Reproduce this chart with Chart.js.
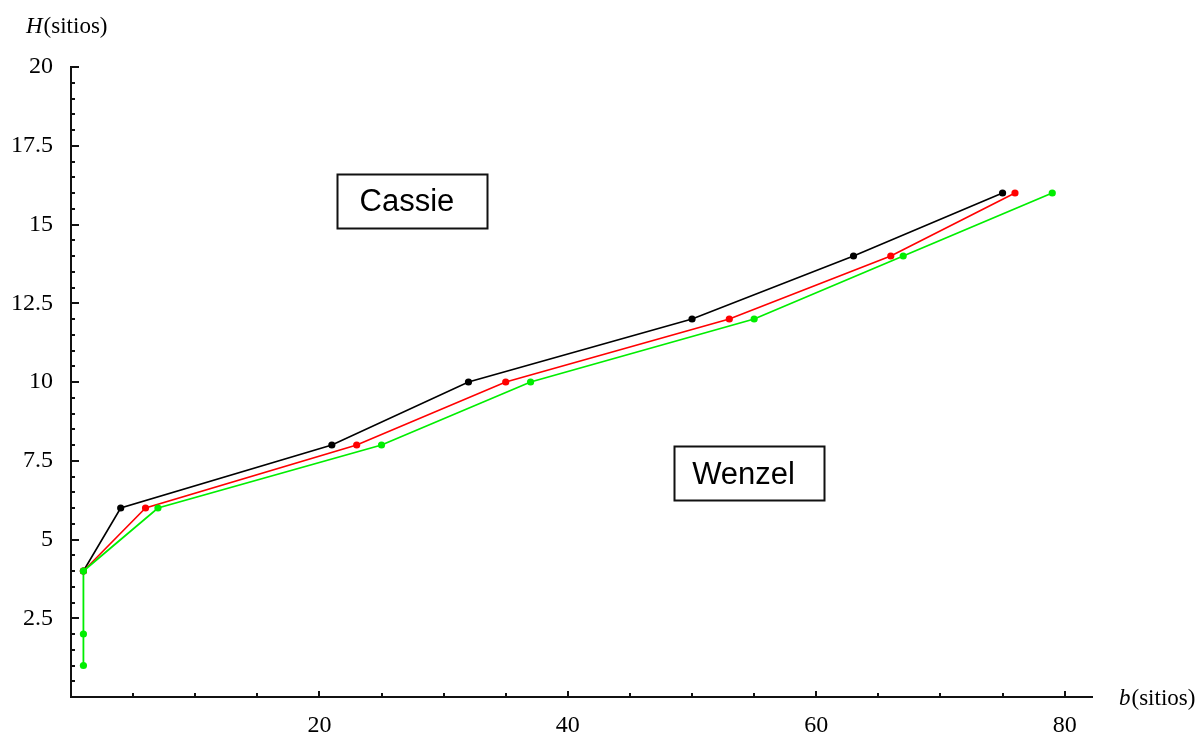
<!DOCTYPE html>
<html>
<head>
<meta charset="utf-8">
<script src="https://cdn.jsdelivr.net/npm/chart.js@4"></script>
<style>
  html, body { margin: 0; padding: 0; background: #fff; }
  #wrap { width: 1199px; height: 736px; }
</style>
</head>
<body>
<div id="wrap"><canvas id="c" width="1199" height="736"></canvas></div>
<script>
// ---- data ----
const blackB = [1, 4, 21, 32, 50, 63, 75];
const blackH = [4, 6, 8, 10, 12, 14, 16];
const redB   = [1, 6, 23, 35, 53, 66, 76];
const redH   = [4, 6, 8, 10, 12, 14, 16];
const greenB = [1, 1, 1, 7, 25, 37, 55, 67, 79];
const greenH = [1, 2, 4, 6, 8, 10, 12, 14, 16];
const xTickLabels = [20, 40, 60, 80];
const yTickLabels = [2.5, 5, 7.5, 10, 12.5, 15, 17.5, 20];
const regionLabels = ["Cassie", "Wenzel"];
const regionB = [27.45, 54.55];
const regionH = [15.75, 7.1];
const xTitle = ["b", "(sitios)"];
const yTitle = ["H", "(sitios)"];

function pts(bs, hs) { return bs.map((b, i) => ({ x: b, y: hs[i] })); }

const decor = {
  id: 'decor',
  afterDatasetsDraw(chart) {
    const ctx = chart.ctx;
    const xs = chart.scales.x, ys = chart.scales.y;
    const left = chart.chartArea.left, bottom = chart.chartArea.bottom;
    ctx.save();
    ctx.strokeStyle = '#111';
    ctx.lineWidth = 2;
    // y minor/major ticks (inward)
    for (let v = 0; v <= 20.0001; v += 0.5) {
      const y = Math.round(ys.getPixelForValue(v));
      const major = Math.abs(v / 2.5 - Math.round(v / 2.5)) < 1e-6;
      ctx.beginPath();
      ctx.moveTo(left, y);
      ctx.lineTo(left + (major ? 8 : 4), y);
      ctx.stroke();
    }
    // x minor/major ticks (inward)
    for (let v = 5; v <= 80.0001; v += 5) {
      const x = Math.round(xs.getPixelForValue(v));
      const major = v % 20 === 0;
      ctx.beginPath();
      ctx.moveTo(x, bottom);
      ctx.lineTo(x, bottom - (major ? 6 : 4));
      ctx.stroke();
    }
    // region boxes
    ctx.font = "31px 'Liberation Sans', Arial, sans-serif";
    ctx.textBaseline = 'middle';
    ctx.textAlign = 'center';
    regionLabels.forEach((t, i) => {
      const cx = xs.getPixelForValue(regionB[i]);
      const cy = ys.getPixelForValue(regionH[i]);
      const w = 150, h = 54;
      ctx.fillStyle = '#fff';
      ctx.fillRect(cx - w / 2, cy - h / 2, w, h);
      ctx.strokeStyle = '#111';
      ctx.lineWidth = 2;
      ctx.strokeRect(Math.round(cx - w / 2) + 0.5, Math.round(cy - h / 2) + 0.5, w, h);
      ctx.fillStyle = '#000';
      ctx.fillText(t, cx - 5, cy + 2);
    });
    // axis titles
    ctx.textAlign = 'left';
    ctx.textBaseline = 'alphabetic';
    ctx.fillStyle = '#000';
    function title(parts, x, y) {
      ctx.font = "italic 23px 'Liberation Serif', 'Times New Roman', serif";
      ctx.fillText(parts[0], x, y);
      const w = ctx.measureText(parts[0]).width;
      ctx.font = "23px 'Liberation Serif', 'Times New Roman', serif";
      ctx.fillText(parts[1], x + w + 1, y);
    }
    title(yTitle, 26, 33);
    title(xTitle, 1119, 705);
    ctx.restore();
  }
};

const ds = (label, b, h, color, order, bw) => ({
  label, data: pts(b, h), borderColor: color, backgroundColor: color,
  borderWidth: bw, pointRadius: 3.6, pointHoverRadius: 3.6,
  pointBorderWidth: 0, tension: 0, order, showLine: true, fill: false
});

new Chart(document.getElementById('c'), {
  type: 'scatter',
  data: {
    datasets: [
      ds('black', blackB, blackH, '#000000', 2, 1.6),
      ds('red', redB, redH, '#ff0000', 1, 1.6),
      ds('green', greenB, greenH, '#00ee00', 0, 1.8)
    ]
  },
  options: {
    responsive: false,
    animation: false,
    devicePixelRatio: 1,
    layout: { padding: { left: 0, top: 67, right: 107, bottom: 0 } },
    plugins: { legend: { display: false }, tooltip: { enabled: false } },
    scales: {
      x: {
        type: 'linear', min: 0, max: 82.2,
        afterBuildTicks: s => { s.ticks = xTickLabels.map(v => ({ value: v })); },
        afterFit: s => { s.height = 39; },
        grid: { display: false, drawTicks: false, tickLength: 0 },
        border: { display: true, color: '#111', width: 2 },
        ticks: { color: '#000', font: { family: "'Liberation Serif', serif", size: 24 }, padding: 14, maxRotation: 0, autoSkip: false }
      },
      y: {
        type: 'linear', min: 0, max: 20,
        afterBuildTicks: s => { s.ticks = yTickLabels.map(v => ({ value: v })); },
        afterFit: s => { s.width = 71; },
        grid: { display: false, drawTicks: false, tickLength: 0 },
        border: { display: true, color: '#111', width: 2 },
        ticks: { color: '#000', font: { family: "'Liberation Serif', serif", size: 24 }, padding: 18, autoSkip: false }
      }
    }
  },
  plugins: [decor]
});
</script>
</body>
</html>
